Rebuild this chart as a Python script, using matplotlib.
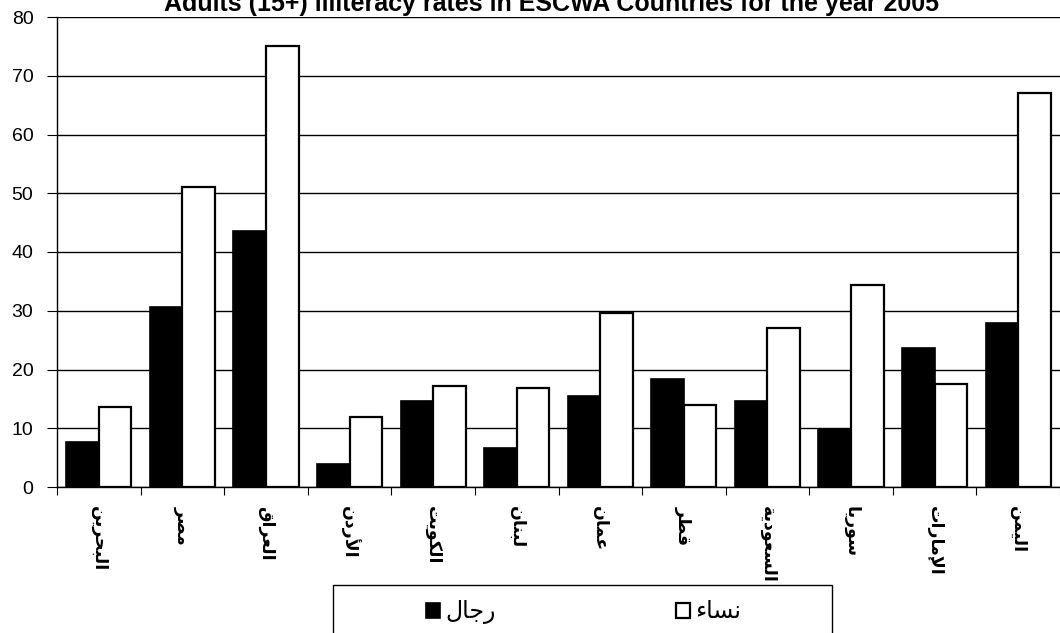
import matplotlib
matplotlib.use("Agg")
import matplotlib.pyplot as plt
from matplotlib.patches import Rectangle
import numpy as np

# Datos
paises = ["البحرين", "مصر", "العراق", "الأردن", "الكويت", "لبنان",
          "عمان", "قطر", "السعودية", "سوريا", "الإمارات", "اليمن"]
hombres = [7.6, 30.6, 43.6, 3.9, 14.6, 6.6, 15.5, 18.3, 14.6, 9.9, 23.6, 27.9]
mujeres = [13.6, 51.0, 75.0, 12.0, 17.2, 16.8, 29.6, 13.9, 27.0, 34.3, 17.6, 67.0]
etiqueta_h = "رجال"
etiqueta_m = "نساء"
titulo = "Adults (15+) illiteracy rates in ESCWA Countries for the year 2005"

# Formas de presentacion arabes: aislada, final, inicial, medial
FORMAS = {
    "ء": (0xFE80, None, None, None),
    "ا": (0xFE8D, 0xFE8E, None, None),
    "أ": (0xFE83, 0xFE84, None, None),
    "إ": (0xFE87, 0xFE88, None, None),
    "ب": (0xFE8F, 0xFE90, 0xFE91, 0xFE92),
    "ة": (0xFE93, 0xFE94, None, None),
    "ت": (0xFE95, 0xFE96, 0xFE97, 0xFE98),
    "ج": (0xFE9D, 0xFE9E, 0xFE9F, 0xFEA0),
    "ح": (0xFEA1, 0xFEA2, 0xFEA3, 0xFEA4),
    "د": (0xFEA9, 0xFEAA, None, None),
    "ر": (0xFEAD, 0xFEAE, None, None),
    "س": (0xFEB1, 0xFEB2, 0xFEB3, 0xFEB4),
    "ص": (0xFEB9, 0xFEBA, 0xFEBB, 0xFEBC),
    "ط": (0xFEC1, 0xFEC2, 0xFEC3, 0xFEC4),
    "ع": (0xFEC9, 0xFECA, 0xFECB, 0xFECC),
    "ق": (0xFED5, 0xFED6, 0xFED7, 0xFED8),
    "ك": (0xFED9, 0xFEDA, 0xFEDB, 0xFEDC),
    "ل": (0xFEDD, 0xFEDE, 0xFEDF, 0xFEE0),
    "م": (0xFEE1, 0xFEE2, 0xFEE3, 0xFEE4),
    "ن": (0xFEE5, 0xFEE6, 0xFEE7, 0xFEE8),
    "ه": (0xFEE9, 0xFEEA, 0xFEEB, 0xFEEC),
    "و": (0xFEED, 0xFEEE, None, None),
    "ي": (0xFEF1, 0xFEF2, 0xFEF3, 0xFEF4),
}
LAMALEF = {"ا": (0xFEFB, 0xFEFC, None, None),
           "أ": (0xFEF7, 0xFEF8, None, None),
           "إ": (0xFEF9, 0xFEFA, None, None)}


def arabe(palabra):
    # une las letras y las pone en orden visual
    u = []
    i = 0
    while i < len(palabra):
        c = palabra[i]
        if c == "ل" and i + 1 < len(palabra) and palabra[i + 1] in LAMALEF:
            u.append(LAMALEF[palabra[i + 1]])
            i += 2
        else:
            u.append(FORMAS[c])
            i += 1
    g = []
    for k, f in enumerate(u):
        antes = k > 0 and u[k - 1][2] is not None and f[1] is not None
        despues = f[2] is not None and k + 1 < len(u) and u[k + 1][1] is not None
        if antes and despues:
            g.append(chr(f[3]))
        elif antes:
            g.append(chr(f[1]))
        elif despues:
            g.append(chr(f[2]))
        else:
            g.append(chr(f[0]))
    return "".join(reversed(g))


plt.rcParams["font.family"] = ["Liberation Sans", "DejaVu Sans"]

fig = plt.figure(figsize=(10.6, 6.33), dpi=100)
ax = fig.add_axes([57 / 1060, 146 / 633, 1003 / 1060, 470 / 633])

x = np.arange(len(paises))
ancho = 0.39
ax.bar(x - ancho / 2, hombres, ancho, color="black", edgecolor="black",
       linewidth=1.2, label=arabe(etiqueta_h), zorder=3)
ax.bar(x + ancho / 2, mujeres, ancho, color="white", edgecolor="black",
       linewidth=1.6, label=arabe(etiqueta_m), zorder=3)

ax.set_xlim(-0.5, 11.38)
ax.set_ylim(0, 80)
ax.set_yticks(range(0, 81, 10))
ax.yaxis.grid(True, color="black", linewidth=1.0, zorder=0)
ax.spines["right"].set_visible(False)
ax.spines["top"].set_visible(False)
for s in ["left", "bottom"]:
    ax.spines[s].set_linewidth(1.0)

ax.set_xticks(np.arange(-0.5, 11.6, 1.0))
ax.set_xticklabels([])
ax.set_xticks(x, minor=True)
ax.set_xticklabels([arabe(p) for p in paises], minor=True, rotation=270,
                   fontsize=12.5, family="DejaVu Sans", fontweight="bold")
ax.tick_params(axis="x", which="minor", length=0, pad=14)
ax.tick_params(axis="x", which="major", length=6, direction="out")
ax.tick_params(axis="y", length=7, direction="out", labelsize=14, pad=10)

fig.text(552 / 1060, 1 - 11 / 633, titulo, ha="center", va="baseline",
         fontsize=18, fontweight="bold")

# caja de la leyenda
fig.patches.append(Rectangle((333 / 1060, -10 / 633), 499 / 1060, 58 / 633,
                             transform=fig.transFigure, facecolor="white",
                             edgecolor="black", linewidth=1.0))
leg = fig.legend(loc="center left", bbox_to_anchor=(426 / 1060, 21 / 633),
                 ncol=2, frameon=False, borderaxespad=0,
                 handlelength=0.59, handleheight=0.59, handletextpad=0.25,
                 columnspacing=7.6, borderpad=0,
                 prop={"family": "DejaVu Sans", "size": 17})

plt.savefig("out.png", dpi=100)
